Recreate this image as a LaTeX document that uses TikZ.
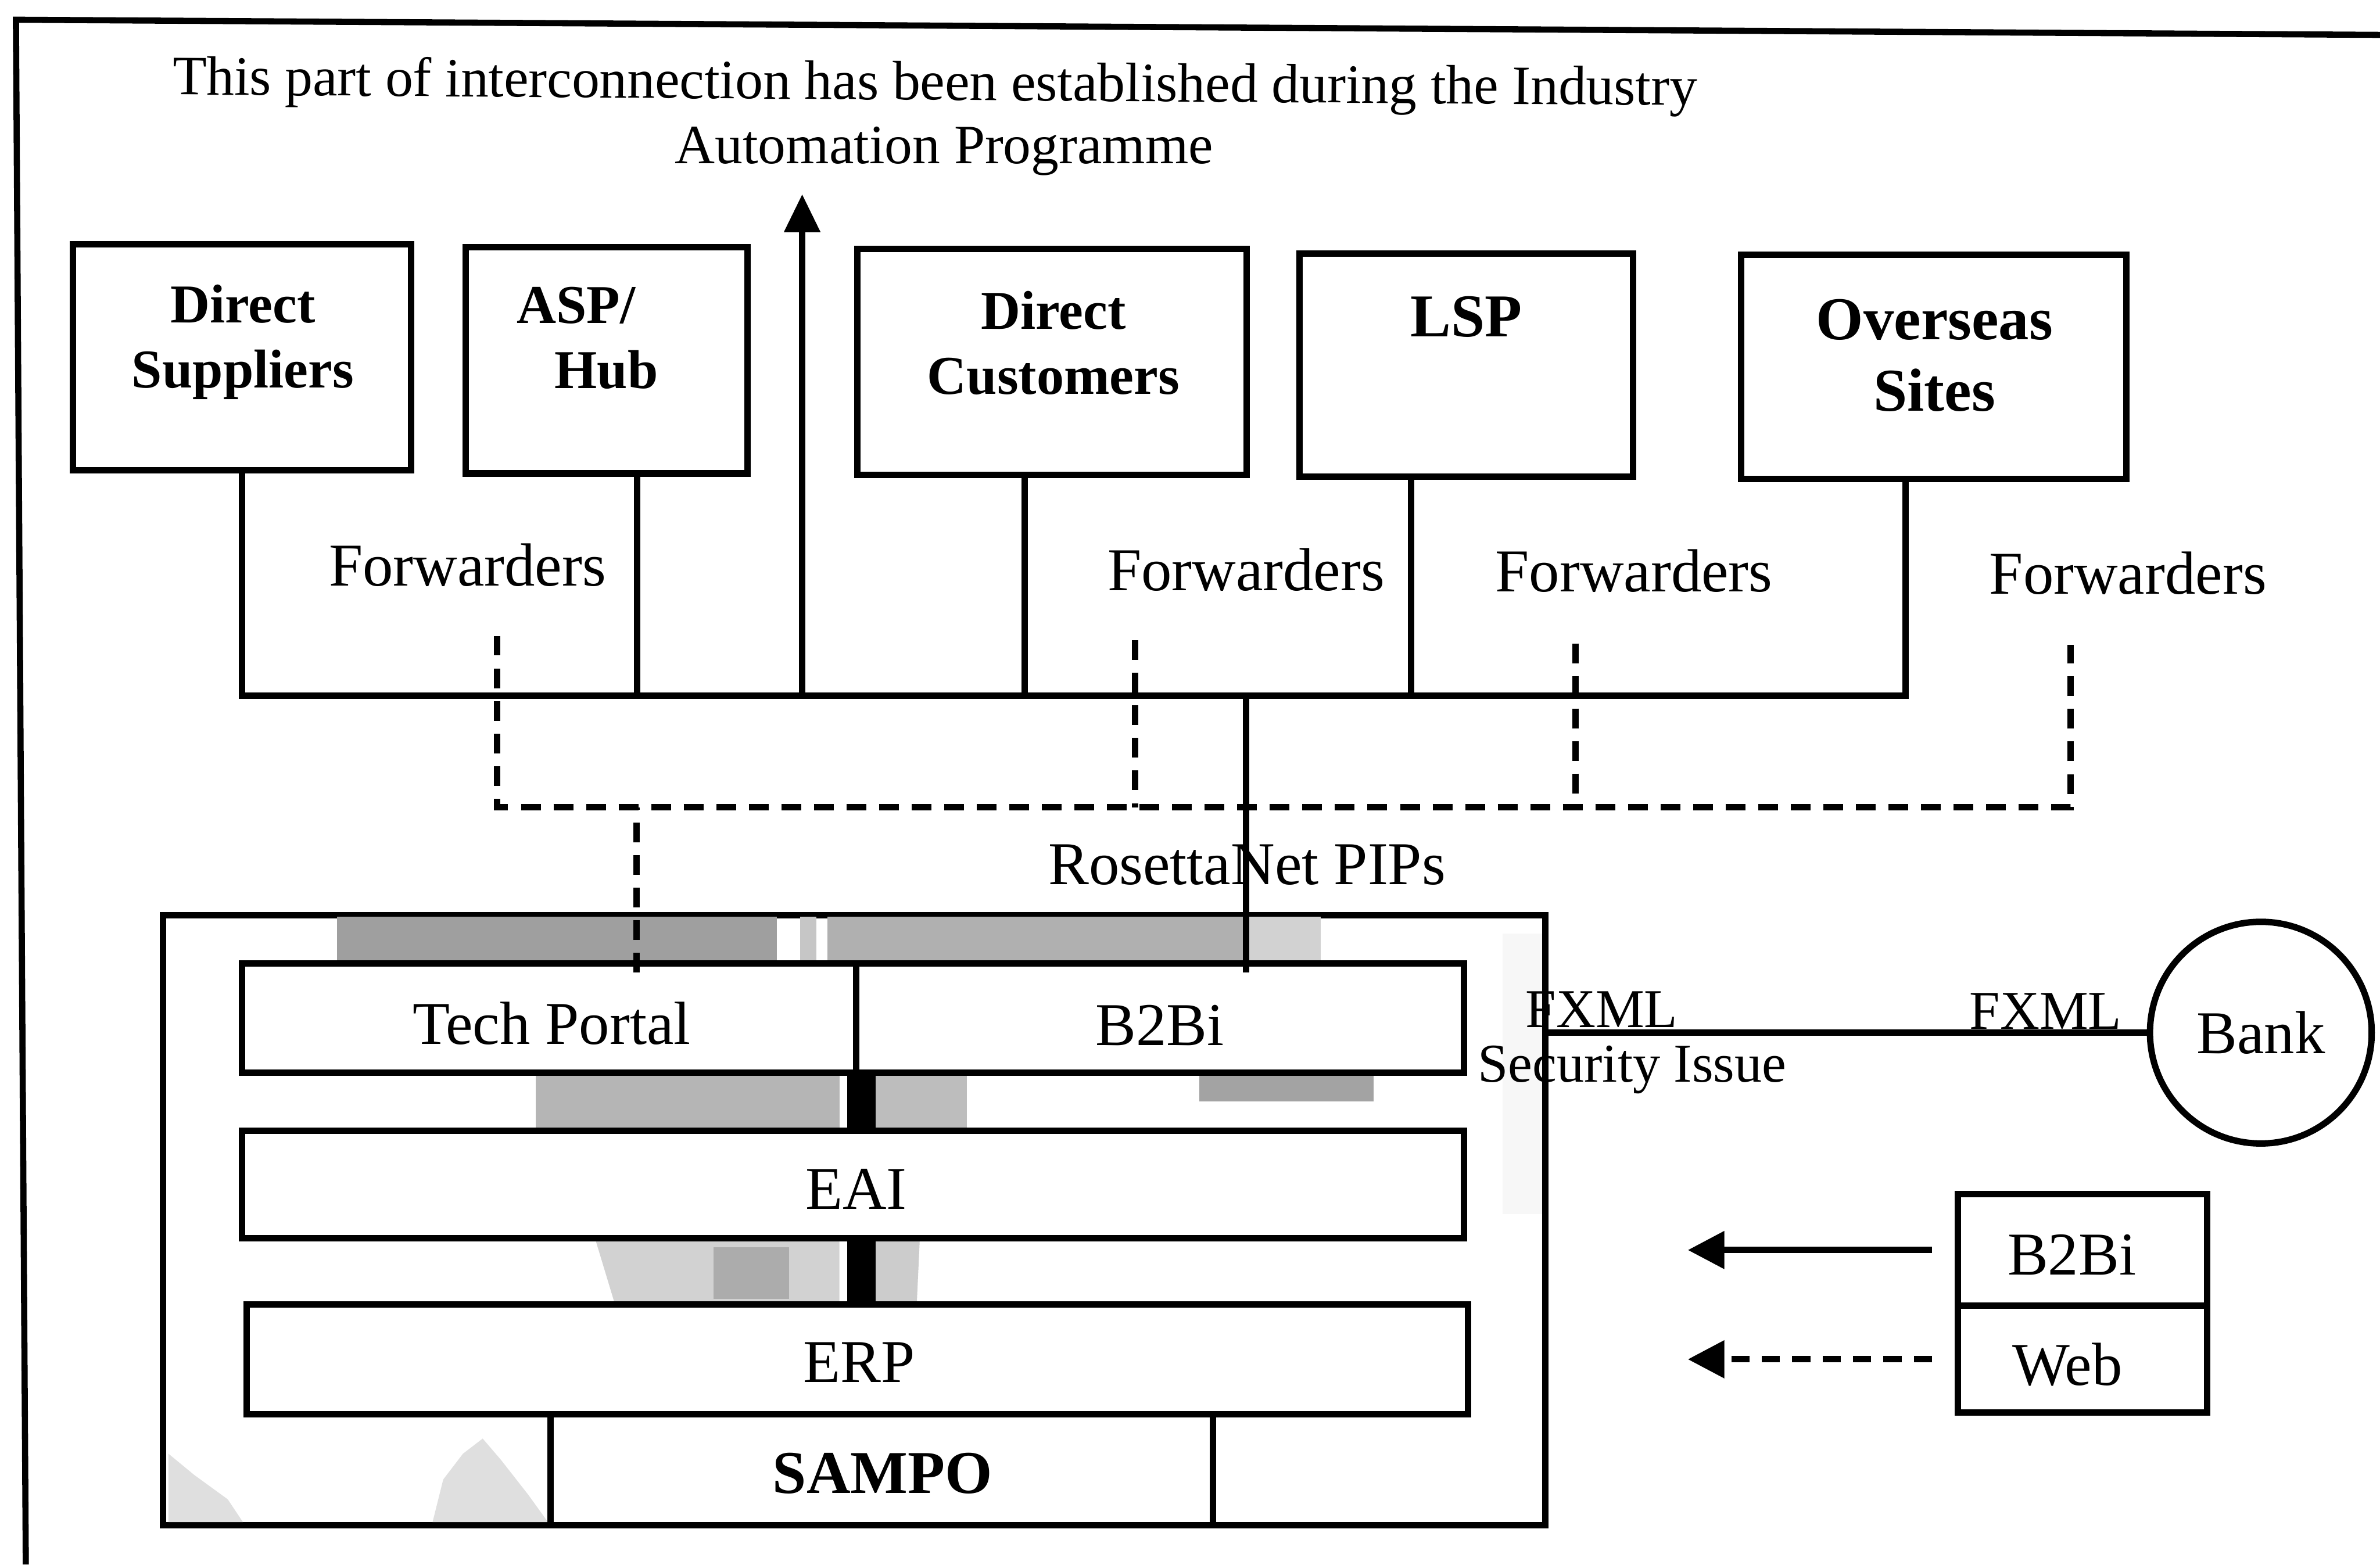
\documentclass[tikz,border=0pt]{standalone}
\usepackage{fontspec}
\setmainfont{Liberation Serif}
\usetikzlibrary{arrows.meta,fit,calc}

\tikzset{
  unitbox/.style={draw, line width=1.2pt, inner sep=0pt, fill=white},
  wire/.style={line width=1.2pt},
  dashwire/.style={line width=1.2pt, dash pattern=on 3.7pt off 2.4pt},
  arrdash/.style={line width=1.2pt, dash pattern=on 3.4pt off 2.3pt},
  bar/.style={line width=5.3pt},
  lbl/.style={inner sep=0pt, anchor=base, font=\fontsize{11.4}{13.7}\selectfont},
  lblw/.style={lbl, anchor=base west},
  smallw/.style={inner sep=0pt, anchor=base west, font=\fontsize{10.25}{12.2}\selectfont},
  titletxt/.style={inner sep=0pt, anchor=base west, font=\fontsize{10.4}{12.5}\selectfont},
  boxhead/.style={inner sep=0pt, anchor=north, align=center, font=\bfseries\fontsize{10.25}{12.2}\selectfont},
  bighead/.style={inner sep=0pt, anchor=north, align=center, font=\bfseries\fontsize{11.4}{13.4}\selectfont},
  uptip/.style={-{Triangle[length=0.25cm,width=0.23cm]}},
  sidetip/.style={-{Triangle[length=0.24cm,width=0.24cm]}},
}

\begin{document}
\begin{tikzpicture}[x=0.01cm, y=-0.01cm]
\useasboundingbox (0,0) rectangle (1568,1031);

% outer frame (left and top edges)
\coordinate (fTL) at (10.5,13);
\coordinate (fTR) at (1568,23);
\coordinate (fBL) at (17,1031);
\draw[line width=1.15pt] (fBL) -- (fTL) -- (fTR);

% heading
\node[titletxt, rotate=-0.4] (head1) at (113,62.4)
  {This part of interconnection has been established during the Industry};
\node[titletxt] (head2) at (444,107.6) {Automation Programme};

% partner boxes
\node[unitbox, fit={(48,161) (271,310)}] (ds) {};
\node[unitbox, fit={(307,163) (492.5,312)}] (asp) {};
\node[unitbox, fit={(565,164) (821.5,313)}] (dc) {};
\node[unitbox, fit={(856,167) (1076,314)}] (lsp) {};
\node[unitbox, fit={(1147,168) (1401,315.5)}] (os) {};

\node[boxhead] (ds-t) at (160,187) {Direct\\Suppliers};
\node[boxhead] (asp-t) at (399.5,188.5) {ASP/\hspace*{11.4pt}\\Hub};
\node[boxhead] (dc-t) at (694,191) {Direct\\Customers};
\node[bighead] (lsp-t) at (966,194.5) {LSP};
\node[bighead] (os-t) at (1274.5,196.5) {Overseas\\Sites};

% forwarder labels
\node[lblw] (fw1) at (216,386) {Forwarders};
\node[lblw] (fw2) at (729,389) {Forwarders};
\node[lblw] (fw3) at (984.5,390) {Forwarders};
\node[lblw] (fw4) at (1310,391.5) {Forwarders};

% enterprise stack
\node[unitbox, fit={(107.5,603) (1018,1005)}] (big) {};

% scanned grey areas inside the stack
\fill[gray!75] (222,604) rectangle (512,635);
\fill[gray!45] (527,604) rectangle (538,635);
\fill[gray!62] (545,604) rectangle (820,635);
\fill[gray!35] (820,604) rectangle (870,635);
\fill[gray!58] (353,707) rectangle (553,745);
\fill[gray!52] (576,707) rectangle (637,745);
\fill[gray!72] (790,707) rectangle (905,726);
\fill[gray!35] (392,816) -- (553,816) -- (553,859) -- (405,859) -- cycle;
\fill[gray!65] (470,822) rectangle (520,856);
\fill[gray!40] (576,816) -- (606,816) -- (604,859) -- (576,859) -- cycle;
\fill[gray!25] (111,958) -- (128,972) -- (150,988) -- (160,1003) -- (111,1003) -- cycle;
\fill[gray!25] (285,1003) -- (292,975) -- (305,958) -- (318,948) -- (330,962) -- (348,985) -- (361,1003) -- cycle;
\fill[gray!6] (990,615) rectangle (1016,800);

\node[unitbox, fit={(159.6,635) (564,707)}] (tp) {};
\node[unitbox, fit={(564,635) (964.6,707)}] (b2bi) {};
\node[unitbox, fit={(159.6,745) (964.6,816)}] (eai) {};
\node[unitbox, fit={(162.6,859.5) (967,932)}] (erp) {};
\node[unitbox, fit={(362.6,932) (799,1005)}] (sampo) {};

\node[lbl] (tp-t) at (363.5,688) {Tech Portal};
\node[lbl] (b2bi-t) at (764,689) {B2Bi};
\node[lbl] (eai-t) at (564,797) {EAI};
\node[lbl] (erp-t) at (566,911) {ERP};
\node[lbl, font=\bfseries\fontsize{11.4}{13.7}\selectfont] (sampo-t) at (581.5,984) {SAMPO};

% links between the layers
\draw[bar] ([xshift=0.015cm]tp.south east) -- ([xshift=0.015cm]tp.south east |- eai.north);
\draw[bar] ([xshift=0.015cm]tp.south east |- eai.south) -- ([xshift=0.015cm]tp.south east |- erp.north);

% solid partner bus
\coordinate (bus) at (0,458.5);
\coordinate (uptipc) at (528.5,128);
\draw[wire] (ds.south) -- (ds.south |- bus) -- ([xshift=-0.185cm]os.south |- bus) -- ([xshift=-0.185cm]os.south);
\draw[wire] ([xshift=0.2cm]asp.south) -- ([xshift=0.2cm]asp.south |- bus);
\draw[wire] ([xshift=-0.18cm]dc.south) -- ([xshift=-0.18cm]dc.south |- bus);
\draw[wire] ([xshift=-0.365cm]lsp.south) -- ([xshift=-0.365cm]lsp.south |- bus);
\draw[wire, uptip] (uptipc |- bus) -- (uptipc);
\draw[wire, shorten <=-0.08cm] ([xshift=0.567cm]b2bi.north) -- ([xshift=0.567cm]b2bi.north |- bus);

% dashed forwarder network
\coordinate (d1) at (327.5,419);
\coordinate (d2) at (748,422);
\coordinate (d3) at (1038,424);
\coordinate (d4) at (1364,425);
\coordinate (dbus) at (0,532);
\draw[dashwire] (d1) -- (d1 |- dbus) -- (d4 |- dbus) -- (d4);
\draw[dashwire] (d2) -- (d2 |- dbus);
\draw[dashwire] (d3) -- (d3 |- dbus);
\draw[dashwire, shorten <=-0.08cm] ([xshift=0.577cm]tp.north) -- ([xshift=0.577cm]tp.north |- dbus);

\node[lblw] (pips) at (690,583) {RosettaNet PIPs};

% bank link
\node[draw, circle, line width=1.2pt, minimum size=1.46cm, inner sep=0pt,
      font=\fontsize{11.4}{13.7}\selectfont] (bank) at (1489.5,680.5) {Bank};
\draw[wire] (bank.west -| big.east) -- (bank.west);
\node[smallw, anchor=base east] (fxml1) at (1106,677) {FXML};
\node[smallw] (fxml2) at (1297,678) {FXML};
\node[smallw] (sec) at (973,713) {Security Issue};

% legend
\node[unitbox, fit={(1290,787) (1454,860.5)}] (lg-b2bi) {};
\node[unitbox, fit={(1290,860.5) (1454,931)}] (lg-web) {};
\node[lbl] (lg-b2bi-t) at (1365,840) {B2Bi};
\node[lbl] (lg-web-t) at (1362,913) {Web};
\coordinate (tipx) at (1112,0);
\draw[wire, sidetip, shorten <=0.15cm] (lg-b2bi.west) -- (lg-b2bi.west -| tipx);
\draw[arrdash, sidetip, shorten <=0.15cm] (lg-web.west) -- (lg-web.west -| tipx);
\end{tikzpicture}
\end{document}
